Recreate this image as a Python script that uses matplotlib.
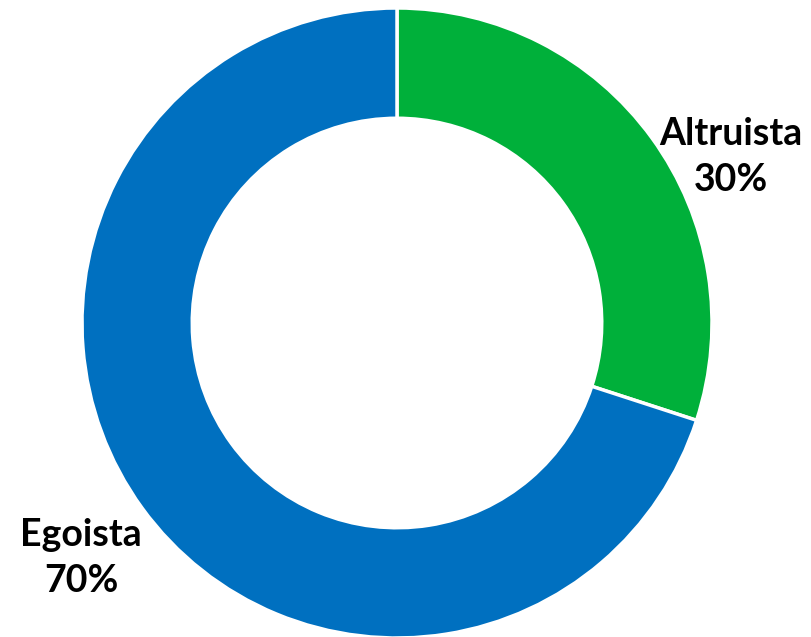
import matplotlib.pyplot as plt

labels = ['Altruista', 'Egoista']
shares = [30, 70]
colors = ['#00B03A', '#0070C0']

W, H = 812, 637
cx, cy, R = 397, 323, 315  # donut centre and outer radius in pixels


def px(x, y):
    # pixel position -> data coords (1 unit = outer radius)
    return (x - cx) / R, (cy - y) / R


fig = plt.figure(figsize=(W / 100, H / 100), dpi=100)
ax = fig.add_axes([0, 0, 1, 1])
ax.pie(shares, colors=colors, startangle=90, counterclock=False, radius=1,
       wedgeprops=dict(width=0.35, edgecolor='white', linewidth=2.5))
ax.set_xlim(-cx / R, (W - cx) / R)
ax.set_ylim(-(H - cy) / R, cy / R)
ax.set_aspect('auto')
ax.axis('off')

label_pos = [(731, 157), (81, 558)]
for lab, val, (x, y) in zip(labels, shares, label_pos):
    ax.text(*px(x, y), f'{lab}\n{val}%', ha='center', va='center',
            fontsize=27, fontweight='bold', family=['Lato', 'DejaVu Sans'],
            linespacing=1.45, color='black')

fig.savefig('out.png', dpi=100)
